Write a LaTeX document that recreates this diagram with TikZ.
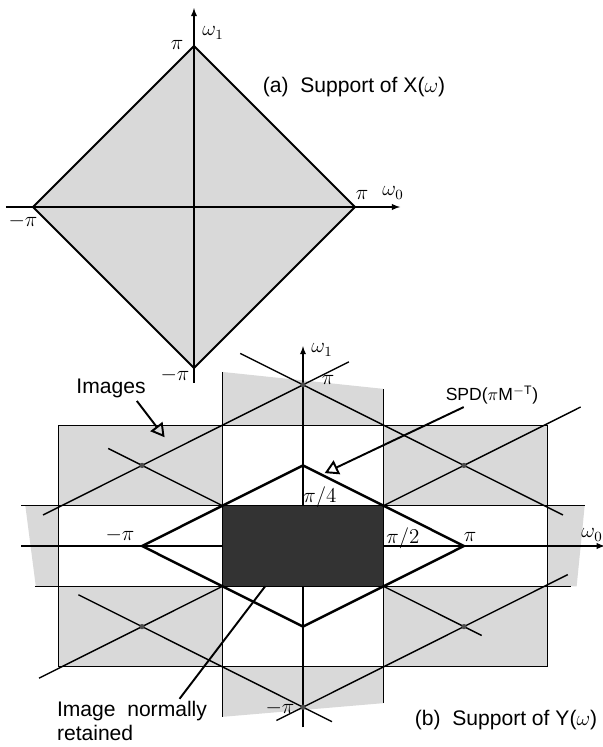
\documentclass[tikz,border=0pt]{standalone}
\usepackage{fontspec}
\setmainfont{Liberation Sans}
\usepackage{amsmath}
\usetikzlibrary{arrows}

\definecolor{imgfill}{gray}{0.85}
\definecolor{retainfill}{gray}{0.2}

\begin{document}
\begin{tikzpicture}[x=0.02cm,y=-0.02cm,
  label node/.style={inner sep=1pt,font=\fontsize{12}{14}\selectfont},
  small node/.style={inner sep=1pt,font=\fontsize{10}{12}\selectfont},
  axis/.style={line width=0.6pt,-latex},
  grid line/.style={line width=0.6pt},
  long line/.style={line width=0.8pt},
  pointer/.style={line width=1.1pt,-open triangle 60,shorten <=1pt}]

\useasboundingbox (0,0) rectangle (602,747);

% (a) support of X
\begin{scope}[shift={(194,207)},x=3.22cm,y=3.22cm]
  \fill[imgfill] (1,0) -- (0,1) -- (-1,0) -- (0,-1) -- cycle;
  \draw[axis] (-1.168,0) -- (1.28,0);
  \draw[axis] (0,-1.093) -- (0,1.236);
  \draw[line width=1.1pt,line join=round] (1,0) -- (0,1) -- (-1,0) -- (0,-1) -- cycle;
\end{scope}

  \node[label node] (w1a) at (213,33) {$\omega_1$};
  \node[label node] (pia) at (177,45) {$\pi$};
  \node[label node] (capa) at (354,87) {(a)\ \ Support\ of\ X($\omega$)};
  \node[label node] (pira) at (362,195) {$\pi$};
  \node[label node] (w0a) at (393,193) {$\omega_0$};
  \node[label node] (mpila) at (23,221) {$-\pi$};
  \node[label node] (mpiba) at (175,375) {$-\pi$};

% (b) support of Y
\begin{scope}[shift={(303,546)},x=1.61cm,y=0.806cm]
  % images
  \fill[imgfill] (-1,4.32) -- (1,3.9) -- (1,3) -- (-1,3) -- cycle;
  \fill[imgfill] (-1,-4.24) -- (1,-3.9) -- (1,-3) -- (-1,-3) -- cycle;
  \fill[imgfill] (-3.04,1) rectangle (-1,3);
  \fill[imgfill] (1,1) rectangle (3.04,3);
  \fill[imgfill] (-3.04,-3) rectangle (-1,-1);
  \fill[imgfill] (1,-3) rectangle (3.04,-1);
  \fill[imgfill] (-3.45,1) -- (-3.04,1) -- (-3.04,-1) -- (-3.32,-1) -- cycle;
  \fill[imgfill] (3.04,1) -- (3.5,1) -- (3.4,-1) -- (3.04,-1) -- cycle;

  \draw[grid line] (-3.04,-3) rectangle (3.04,3);
  \draw[grid line] (-3.5,1) -- (3.5,1);
  \draw[grid line] (-3.33,-1) -- (3.33,-1);
  \draw[grid line] (-1,-4.24) -- (-1,4.32);
  \draw[grid line] (1,-3.9) -- (1,3.9);
  \draw[axis] (-3.5,0) -- (3.75,0);
  \draw[axis] (0,-4.5) -- (0,4.96);

  \draw[long line] (-3.28,-3.28) -- (3.45,3.45);
  \draw[long line] (-2.42,2.42) -- (2.22,-2.22);
  \draw[long line] (-3.23,0.77) -- (0.57,4.57);
  \draw[long line] (-0.78,4.78) -- (3.23,0.77);
  \draw[long line] (-0.33,-4.33) -- (3.29,-0.71);
  \draw[long line] (-2.79,-1.21) -- (0.36,-4.36);

  \foreach \p in {(0,4),(0,-4),(2,2),(-2,2),(2,-2),(-2,-2)}
    \fill[black!70] \p circle[radius=1.5pt];

  % baseband
  \fill[retainfill] (-1,-1) rectangle (1,1);
  \draw[line width=1.4pt,line join=round] (-2,0) -- (0,2) -- (2,0) -- (0,-2) -- cycle;

  \coordinate (imgtip) at (-1.72,2.7);
  \coordinate (spdtip) at (0.27,1.81);
  \coordinate (keeptip) at (-0.47,-1);
\end{scope}

  \node[label node] (w1b) at (322,350) {$\omega_1$};
  \node[label node] (pitb) at (328,380) {$\pi$};
  \node[label node] (mpibb) at (280,708) {$-\pi$};
  \node[label node] (mpilb) at (120,535) {$-\pi$};
  \node[label node] (pirb) at (470,537) {$\pi$};
  \node[label node] (pi4) at (320,497) {$\pi/4$};
  \node[label node] (pi2) at (403,538) {$\pi/2$};
  \node[label node] (w0b) at (592,535) {$\omega_0$};

  \node[label node] (imgs) at (111,388) {Images};
  \node[small node] (spd) at (492,395) {SPD($\pi$M$^{-\mathrm{T}}$)};
  \node[label node,align=left] (retained) at (132,721) {Image\ \ normally\\retained};
  \node[label node] (capb) at (506,720) {(b)\ \ Support\ of\ Y($\omega$)};

  \draw[pointer] (imgs.-25) -- (imgtip);
  \draw[pointer] (spd.203) -- (spdtip);
  \draw[line width=1.1pt] (retained.25) -- (keeptip);
\end{tikzpicture}
\end{document}
